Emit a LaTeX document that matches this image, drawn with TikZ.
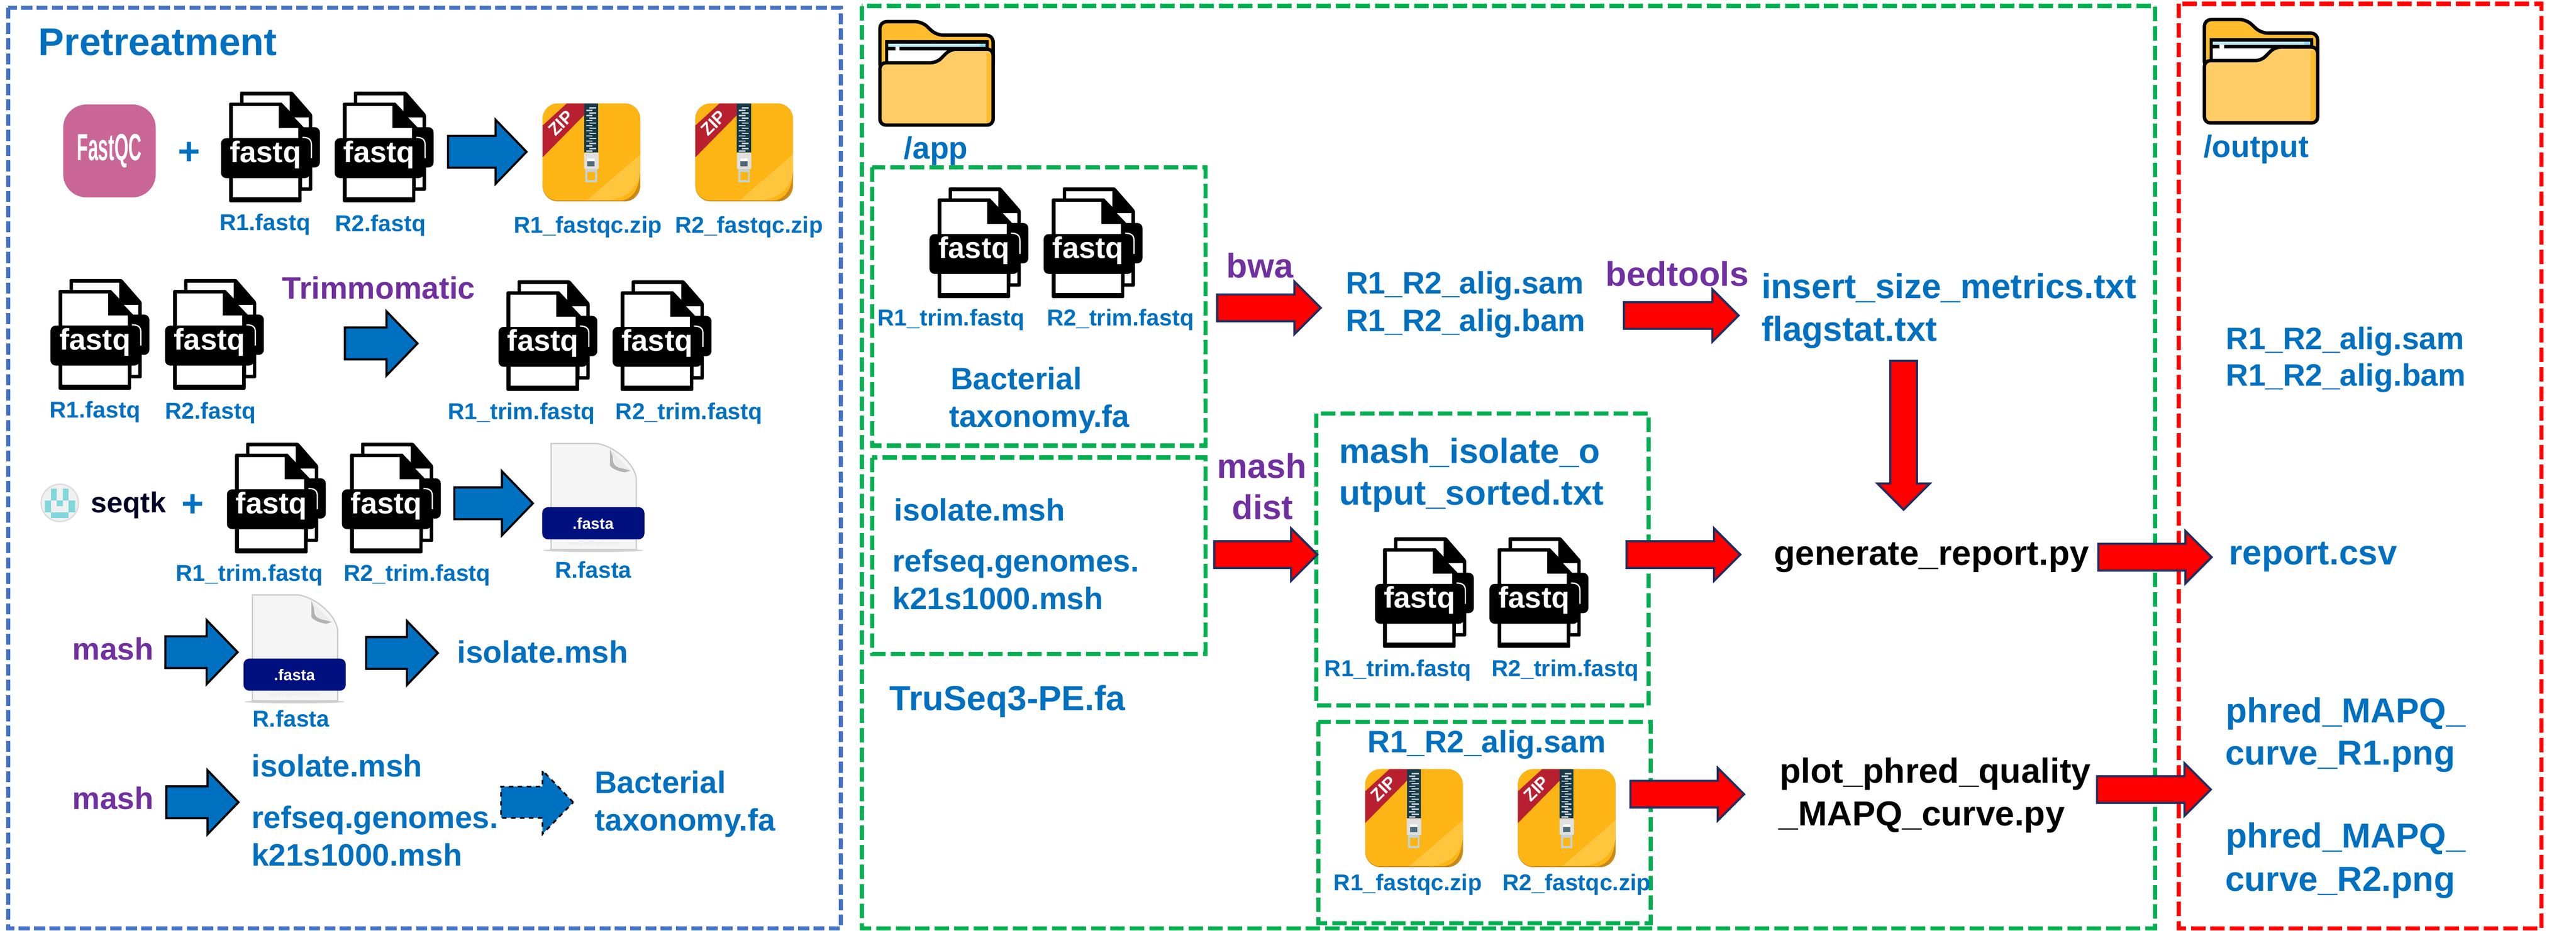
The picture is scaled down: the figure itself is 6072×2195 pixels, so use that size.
\documentclass[tikz,border=0pt]{standalone}
\usepackage{fontspec}
\setmainfont{Liberation Sans}
\usetikzlibrary{shapes.arrows}

\definecolor{txtblue}{HTML}{0070C0}
\definecolor{txtpurple}{HTML}{7030A0}
\definecolor{boxblue}{HTML}{4472C4}
\definecolor{boxgreen}{HTML}{00B050}
\definecolor{arrowedge}{HTML}{1F2F5F}
\definecolor{zipfill}{HTML}{FDB515}
\definecolor{ziplight}{HTML}{FFC53D}
\definecolor{zipdark}{HTML}{C8891B}
\definecolor{zipred}{HTML}{B82030}
\definecolor{zipteeth}{HTML}{173A4A}
\definecolor{foldertab}{HTML}{FFBC2C}
\definecolor{folderfront}{HTML}{FFCC66}
\definecolor{fastaband}{HTML}{00107F}
\definecolor{seqteal}{HTML}{80D8DC}
\definecolor{fastqcpink}{HTML}{C96696}

\tikzset{
  lbl/.style={anchor=base west, inner sep=0, outer sep=0, text=txtblue,
    font=\bfseries\fontsize{20.8}{24}\selectfont},
  smalllbl/.style={lbl, font=\bfseries\fontsize{15.4}{18}\selectfont},
  biglbl/.style={lbl, font=\bfseries\fontsize{23.3}{27}\selectfont},
  scriptlbl/.style={biglbl, text=black},
  toollbl/.style={lbl, text=txtpurple},
  bigtoollbl/.style={lbl, text=txtpurple, font=\bfseries\fontsize{23}{27}\selectfont},
  dashbox/.style={line width=.1cm, dash pattern=on .34cm off .12cm},
  bluearrow/.style={single arrow, anchor=tail, fill=txtblue, draw=black, line width=.05cm,
    inner xsep=0, inner ysep=.35cm, outer sep=0, minimum width=1.46cm,
    single arrow head extend=.38cm, single arrow tip angle=92},
  redarrow/.style={single arrow, anchor=tail, fill=red, draw=arrowedge, line width=.05cm,
    inner xsep=0, inner ysep=.29cm, outer sep=0, minimum width=1.19cm,
    single arrow head extend=.305cm, single arrow tip angle=90},
  pics/fastqicon/.style={code={
    \fill[rounded corners=.03cm] (45,0) -- (168,0) -- (215,54) -- (215,234) -- (45,234) -- cycle;
    \fill[rounded corners=.03cm] (19,26) -- (143,26) -- (190,81) -- (190,261) -- (19,261) -- cycle;
    \fill[rounded corners=.12cm] (180,84) rectangle (233,179);
    \fill[white] (53,9) -- (162,9) -- (162,46) -- (143,26) -- (53,26) -- cycle;
    \fill[white] (173,61) -- (207,61) -- (207,84) -- (195,84) -- cycle;
    \fill[white] (28,34) -- (136,34) -- (136,86) -- (182,86) -- (182,110) -- (28,110) -- cycle;
    \fill[white] (28,204) -- (182,204) -- (182,249) -- (28,249) -- cycle;
    \fill[white] (191,204) -- (207,199) -- (207,226) -- (191,226) -- cycle;
    \fill[rounded corners=.12cm] (0,110) rectangle (210,204);
    \draw[white, line width=.03cm] (192,108) .. controls (205,108) and (213,112) .. (213,125) -- (213,157);
    \node[anchor=base, inner sep=0, text=white, font=\bfseries\fontsize{20}{24}\selectfont] (-txt) at (105,167) {fastq};
  }},
  pics/zipicon/.style={code={
    \fill[zipdark, rounded corners=.36cm] (0,0) rectangle (230,231);
    \fill[zipfill, rounded corners=.36cm] (0,0) -- (230,0) -- (230,130) -- (230,229) -- (0,229) -- cycle;
    \fill[zipdark] (230,150) .. controls (230,200) and (215,231) .. (172,230) -- (195,231)
      .. controls (218,228) and (230,205) .. (230,195) -- cycle;
    \fill[ziplight] (230,120) -- (230,160) .. controls (225,205) and (190,227) .. (150,228) -- (105,228) -- cycle;
    \fill[zipred] (57,0) -- (125,0) -- (0,127) -- (0,52) -- cycle;
    \node[inner sep=0, rotate=45, text=white, font=\bfseries\fontsize{11.7}{14}\selectfont] (-txt) at (43,46) {ZIP};
    \fill[zipteeth] (98,0) rectangle (131,116);
    \foreach \i in {0,...,8} {
      \fill[zipteeth!25!white] (110,9+\i*12) rectangle (126,12+\i*12);
      \fill[zipteeth!25!white] (103,15+\i*12) rectangle (118,18+\i*12);
    }
    \fill[black!12, rounded corners=.03cm] (98,116) rectangle (132,155);
    \fill[zipteeth!75!white] (106,130) rectangle (123,148);
    \fill[white] (106,130) rectangle (123,136);
    \fill[blue!15!cyan!20!gray!40] (101,155) rectangle (128,186);
    \fill[zipfill] (106,162) rectangle (124,181);
  }},
  pics/fastaicon/.style={code={
    \fill[black!18] (120,252) ellipse [x radius=1.18cm, y radius=.04cm];
    \draw[fill=black!4, draw=black!20, line width=.03cm] (21,0) -- (128,0)
      .. controls (170,5) and (222,50) .. (222,87) -- (222,250) -- (21,250) -- cycle;
    \fill[black!30] (160,14) .. controls (172,25) and (160,45) .. (175,54)
      .. controls (190,62) and (200,58) .. (208,64) -- (195,68)
      .. controls (180,66) and (165,60) .. (160,52) -- cycle;
    \fill[black!8] (160,14) -- (208,64) -- (175,54) -- cycle;
    \fill[fastaband, rounded corners=.14cm] (0,150) rectangle (241,226);
    \node[anchor=base, inner sep=0, text=white, font=\bfseries\fontsize{10.5}{12}\selectfont] (-txt) at (120,202) {.fasta};
    \node[anchor=base, inner sep=0, text=black!10, font=\fontsize{3.6}{4}\selectfont] (-site) at (120,240) {www.FileProInfo.com};
  }},
  pics/foldericon/.style={code={
    \draw[fill=foldertab, line width=.08cm, rounded corners=.16cm] (4,120) -- (4,4) -- (103,4) -- (137,36) -- (271,36) -- (271,120) -- cycle;
    \draw[fill=white, line width=.08cm] (20,52) rectangle (256,110);
    \fill[cyan!25] (24,56) rectangle (253,64);
    \fill[cyan!45] (240,56) rectangle (253,64);
    \draw[line width=.08cm] (20,68) -- (40,68) (50,68) -- (256,68);
    \fill[folderfront, rounded corners=.14cm] (4,248) -- (4,101) -- (138,101) -- (170,69) -- (271,69) -- (271,248) -- cycle;
    \fill[foldertab] (255,78) rectangle (268,244);
    \draw[line width=.08cm, rounded corners=.14cm] (4,248) -- (4,101) -- (138,101) -- (170,69) -- (271,69) -- (271,248) -- cycle;
  }},
}

\begin{document}
\begin{tikzpicture}[x=.01cm, y=-.01cm]
\useasboundingbox (0,0) rectangle (6072,2195);

% outer boxes
\draw[dashbox, boxblue, dash pattern=on .26cm off .10cm] (19,18) rectangle (1982,2190);
\draw[dashbox, boxgreen] (2032,14) rectangle (5080,2190);
\draw[dashbox, red] (5136,9) rectangle (5991,2190);

% inner boxes
\draw[dashbox, boxgreen] (2056,395) rectangle (2842,1051);
\draw[dashbox, boxgreen] (2056,1079) rectangle (2842,1542);
\draw[dashbox, boxgreen] (3103,975) rectangle (3886,1664);
\draw[dashbox, boxgreen] (3108,1703) rectangle (3891,2177);

%%%%%%%%%%%%%%%%%%%%%%%%%%%%%%%%%%%%%%%%

\foreach \nm/\x/\y in {fqa/521/216, fqb/789/216, fqc/119/658, fqd/389/658, fqe/1175/661,
    fqf/1444/661, fqg/535/1044, fqh/806/1044, fqi/2191/442, fqj/2460/442, fqk/3241/1267, fql/3511/1267}
  \pic (\nm) at (\x,\y) {fastqicon};
\foreach \nm/\x/\y in {zipa/1279/244, zipb/1639/244, zipc/3218/1814, zipd/3578/1814}
  \pic (\nm) at (\x,\y) {zipicon};
\pic (fasa) at (1278,1046) {fastaicon};
\pic (fasb) at (574,1403) {fastaicon};
\pic (foldapp) at (2070,47) {foldericon};
\pic (foldout) at (5192,42) {foldericon};

% tool logos
\node[fill=fastqcpink, rounded corners=.55cm, inner sep=0, minimum width=2.18cm, minimum height=2.19cm,
    text=white, font=\bfseries\fontsize{25.3}{30}\selectfont] (fastqc) at (258,356) {\scalebox{.48}[1]{FastQC}};
\node[circle, fill=black!6, draw=black!14, line width=.03cm, inner sep=0, minimum size=.88cm] (seqlogo) at (141,1186) {};
\foreach \xa/\ya/\xb/\yb in {120/1152/134/1180, 148/1152/162/1180, 106/1180/120/1208,
    162/1180/177/1208, 134/1180/148/1194, 120/1208/162/1222}
  \fill[seqteal] (\xa,\ya) rectangle (\xb,\yb);
\node[lbl, text=black!85!blue, font=\bfseries\fontsize{19.3}{23}\selectfont] (seqtk) at (214,1209) {seqtk};
\node[inner sep=0, text=txtblue, font=\bfseries\fontsize{25.6}{30}\selectfont] (plusa) at (446,362) {+};
\node[inner sep=0, text=txtblue, font=\bfseries\fontsize{25.6}{30}\selectfont] (plusb) at (454,1192) {+};

%%%%%%%%%%%%%%%%%%%%%%%%%%%%%%%%%%%%%%%%

\node[lbl, font=\bfseries\fontsize{25.9}{30}\selectfont] (title) at (91,130) {Pretreatment};

\foreach \nm/\x/\y/\txt in {
    labfqa/518/544/R1.fastq, labfqb/790/546/R2.fastq,
    labzipa/1211/549/R1\_fastqc.zip, labzipb/1591/549/R2\_fastqc.zip,
    labfqc/117/986/R1.fastq, labfqd/389/988/R2.fastq,
    labfqe/1056/989/R1\_trim.fastq, labfqf/1451/989/R2\_trim.fastq,
    labfqg/415/1370/R1\_trim.fastq, labfqh/810/1370/R2\_trim.fastq,
    labfasa/1308/1363/R.fasta, labfasb/596/1714/R.fasta,
    labfqi/2069/768/R1\_trim.fastq, labfqj/2468/768/R2\_trim.fastq,
    labfqk/3122/1595/R1\_trim.fastq, labfql/3516/1595/R2\_trim.fastq,
    labzipc/3144/2100/R1\_fastqc.zip, labzipd/3542/2100/R2\_fastqc.zip}
  \node[smalllbl] (\nm) at (\x,\y) {\txt};

\foreach \nm/\x/\y/\txt in {
    isoa/1078/1563/isolate.msh, isob/593/1832/isolate.msh,
    refa/593/1953/refseq.genomes., kmera/593/2042/k21s1000.msh,
    baca/1402/1871/Bacterial, taxa/1402/1960/taxonomy.fa,
    bacb/2241/919/Bacterial, taxb/2237/1007/taxonomy.fa,
    sama/3172/693/R1\_R2\_alig.sam, bama/3172/781/R1\_R2\_alig.bam,
    isoc/2108/1228/isolate.msh, refb/2104/1349/refseq.genomes., kmerb/2104/1437/k21s1000.msh,
    samb/3224/1775/R1\_R2\_alig.sam,
    samc/5247/824/R1\_R2\_alig.sam, bamc/5247/910/R1\_R2\_alig.bam}
  \node[lbl] (\nm) at (\x,\y) {\txt};
\node[lbl] (appdir) at (2131,375) {/app};
\node[lbl] (outdir) at (5194,371) {/output};

\foreach \nm/\x/\y/\txt in {
    adapter/2097/1675/TruSeq3-PE.fa, masha/3157/1092/mash\_isolate\_o, mashb/3157/1191/utput\_sorted.txt,
    metrics/4152/704/insert\_size\_metrics.txt, flagst/4152/805/flagstat.txt, report/5254/1331/report.csv,
    phreda/5247/1704/phred\_MAPQ\_, curvea/5245/1804/curve\_R1.png,
    phredb/5247/2000/phred\_MAPQ\_, curveb/5245/2101/curve\_R2.png}
  \node[biglbl] (\nm) at (\x,\y) {\txt};

\node[scriptlbl] (genrep) at (4182,1333) {generate\_report.py};
\node[scriptlbl] (plota) at (4195,1846) {plot\_phred\_quality};
\node[scriptlbl] (plotb) at (4193,1947) {\_MAPQ\_curve.py};

\node[toollbl] (trimtool) at (665,705) {Trimmomatic};
\node[toollbl] (mashtoola) at (171,1556) {mash};
\node[toollbl] (mashtoolb) at (171,1908) {mash};
\node[bigtoollbl] (bwatool) at (2891,655) {bwa};
\node[bigtoollbl] (bedtool) at (3785,674) {bedtools};
\node[bigtoollbl] (disttoola) at (2869,1127) {mash};
\node[bigtoollbl] (disttoolb) at (2904,1225) {dist};

%%%%%%%%%%%%%%%%%%%%%%%%%%%%%%%%%%%%%%%%

\foreach \nm/\x/\y/\len in {ara/1056/358/1.85, arb/813/810/1.71, arc/1071/1187/1.85,
    ard/390/1538/1.70, are/863/1540/1.69, arf/392/1892/1.70}
  \node[bluearrow, minimum height=\len cm] (\nm) at (\x,\y) {};
\node[bluearrow, minimum height=1.70cm, dashed, line width=.04cm] (arg) at (1181,1892) {};

\foreach \nm/\x/\y/\len in {rda/2869/726/2.44, rdb/3828/744/2.70, rdc/2862/1308/2.43,
    rdd/3834/1308/2.68, rde/3843/1873/2.68, rdf/4946/1314/2.67, rdg/4943/1862/2.68}
  \node[redarrow, minimum height=\len cm] (\nm) at (\x,\y) {};
\node[redarrow, minimum height=3.51cm, shape border rotate=270, inner xsep=.29cm, inner ysep=0] (rdh) at (4487,851) {};
\end{tikzpicture}
\end{document}
